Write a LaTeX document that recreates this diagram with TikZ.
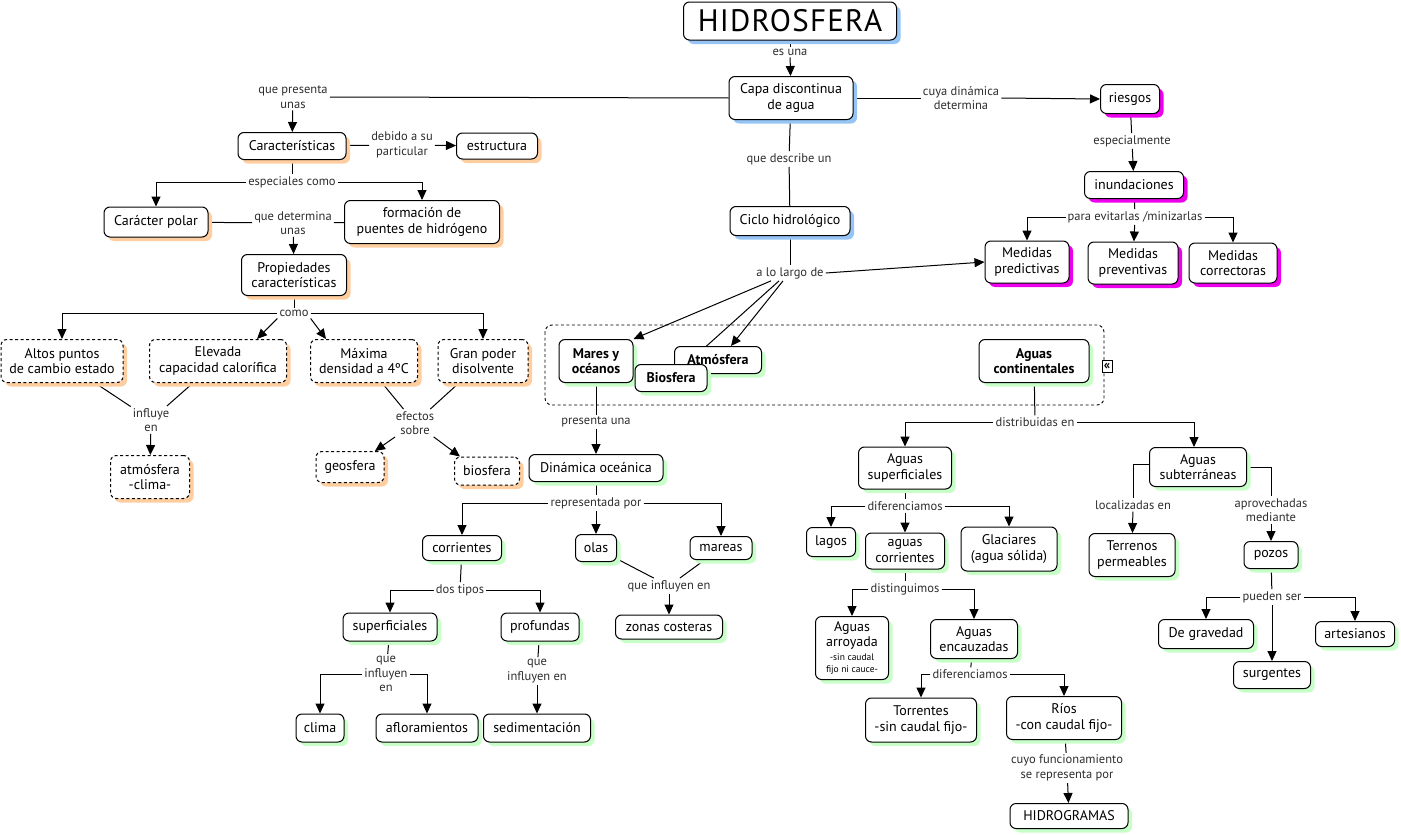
\documentclass[tikz,border=0pt]{standalone}
\usepackage{fontspec}
\setmainfont{PT Sans}
\newfontfamily\hidfont{PT Sans}[LetterSpace=4]
\usetikzlibrary{arrows.meta,shadows,backgrounds}
\definecolor{shblue}{RGB}{150,196,245}
\definecolor{shorange}{RGB}{255,206,160}
\definecolor{shmag}{RGB}{238,0,238}
\definecolor{shgreen}{RGB}{200,255,200}
\definecolor{labc}{RGB}{45,45,45}
\newcommand\nfont{\fontsize{14}{15.5}\selectfont}
\newcommand\lfont{\fontsize{12.5}{14.5}\selectfont}
\newcommand\smfont{\fontsize{9.5}{10}\selectfont}
\tikzset{
  box/.style={draw, rounded corners=6pt, line width=1pt, fill=white, align=center,
    inner sep=1pt, font=\nfont, text=black},
  sz/.style 2 args={minimum width=#1pt, minimum height=#2pt},
  bl/.style={box, drop shadow={shadow xshift=4pt, shadow yshift=-4pt, fill=shblue, opacity=1, draw=none}},
  og/.style={box, drop shadow={shadow xshift=4pt, shadow yshift=-4pt, fill=shorange, opacity=1, draw=none}},
  ogd/.style={og, dash pattern=on 3pt off 2.5pt},
  mg/.style={box, drop shadow={shadow xshift=4pt, shadow yshift=-4pt, fill=shmag, opacity=1, draw=none}},
  gr/.style={box, drop shadow={shadow xshift=4pt, shadow yshift=-4pt, fill=shgreen, opacity=1, draw=none}},
  grb/.style={gr, font=\nfont\bfseries},
  lab/.style={font=\lfont, text=labc, align=center, inner sep=2pt},
  arr/.style={-{Triangle[length=10pt,width=9pt]}},
  edge/.style={line width=1pt, draw=black}
}
\begin{document}
\begin{tikzpicture}[x=1pt,y=-1pt]
\path[use as bounding box] (0,0) rectangle (1401,835);

% group box
\draw[line width=0.9pt, dash pattern=on 3pt off 2.5pt, rounded corners=7pt] (545,325) rectangle (1104,405);
\node[draw, line width=0.8pt, fill=white, inner sep=0pt, minimum width=10pt, minimum height=12pt,
  font=\fontsize{13}{13}\selectfont\bfseries] (icon) at (1107,366) {«};

% blue
\node[bl, sz={213}{38}, font=\hidfont\fontsize{31}{33}\selectfont] (hid) at (790,21) {HIDROSFERA};
\node[bl, sz={124}{43}] (capa) at (791,98) {Capa discontinua\\de agua};
\node[bl, sz={120}{29}] (ciclo) at (790,221) {Ciclo hidrológico};

% orange
\node[og, sz={108}{27}] (carac) at (292,146) {Características};
\node[og, sz={81}{26}] (estr) at (497,146) {estructura};
\node[og, sz={104}{30}] (polar) at (156,222) {Carácter polar};
\node[og, sz={155}{43}] (puentes) at (422,222) {formación de\\puentes de hidrógeno};
\node[og, sz={105}{41}] (prop) at (294,275) {Propiedades\\características};
\node[ogd, sz={122}{43}] (altos) at (62,361) {Altos puntos\\de cambio estado};
\node[ogd, sz={137}{43}] (elev) at (218,361) {Elevada\\capacidad calorífica};
\node[ogd, sz={107}{43}] (maxd) at (364,361) {Máxima\\densidad a 4ºC};
\node[ogd, sz={90}{43}] (gran) at (483,361) {Gran poder\\disolvente};
\node[ogd, sz={79}{43}] (atmc) at (150,477) {atmósfera\\-clima-};
\node[ogd, sz={68}{31}] (geo) at (350,467) {geosfera};
\node[ogd, sz={65}{28}] (bios) at (487,471) {biosfera};

% magenta
\node[mg, sz={59}{29}] (riesgos) at (1130,99) {riesgos};
\node[mg, sz={99}{27}] (inund) at (1134,185) {inundaciones};
\node[mg, sz={84}{42}] (mpred) at (1027,262) {Medidas\\predictivas};
\node[mg, sz={90}{42}] (mprev) at (1133,263) {Medidas\\preventivas};
\node[mg, sz={88}{40}] (mcorr) at (1233,263) {Medidas\\correctoras};

% green
\node[grb, sz={74}{43}] (mares) at (596,361) {Mares y\\océanos};
\node[grb, sz={87}{27}] (atm) at (718,360) {Atmósfera};
\node[grb, sz={72}{27}] (biosf) at (671,378) {Biosfera};
\node[grb, sz={110}{43}] (acont) at (1034,361) {Aguas\\continentales};
\node[gr, sz={134}{27}] (dyn) at (596,468) {Dinámica oceánica};
\node[gr, sz={79}{25}] (corr) at (462,548) {corrientes};
\node[gr, sz={41}{27}] (olas) at (596,548) {olas};
\node[gr, sz={62}{23}] (mareas) at (721,548) {mareas};
\node[gr, sz={107}{24}] (zonas) at (669,627) {zonas costeras};
\node[gr, sz={94}{28}] (superf) at (390,627) {superficiales};
\node[gr, sz={78}{28}] (prof) at (540,627) {profundas};
\node[gr, sz={48}{28}] (clima) at (320,728) {clima};
\node[gr, sz={102}{28}] (aflor) at (427,728) {afloramientos};
\node[gr, sz={107}{28}] (sedim) at (537,728) {sedimentación};
\node[gr, sz={93}{42}] (asup) at (905,468) {Aguas\\superficiales};
\node[gr, sz={97}{39}] (asub) at (1198,467) {Aguas\\subterráneas};
\node[gr, sz={49}{29}] (lagos) at (831,542) {lagos};
\node[gr, sz={79}{36}] (acorr) at (905,551) {aguas\\corrientes};
\node[gr, sz={96}{44}] (glac) at (1009,549) {Glaciares\\(agua sólida)};
\node[gr, sz={86}{43}] (terr) at (1132,555) {Terrenos\\permeables};
\node[gr, sz={54}{27}] (pozos) at (1271,555) {pozos};
\node[gr, sz={95}{29}] (grav) at (1206,634) {De gravedad};
\node[gr, sz={77}{27}] (surg) at (1272,675) {surgentes};
\node[gr, sz={79}{25}] (artes) at (1355,634) {artesianos};
\node[gr, sz={73}{63}] (arroy) at (852,648) {Aguas\\arroyada\\[-2pt]{\smfont -sin caudal}\\[-3pt]{\smfont fijo ni cauce-}};
\node[gr, sz={87}{39}] (encauz) at (974,639) {Aguas\\encauzadas};
\node[gr, sz={111}{44}] (torr) at (921,720) {Torrentes\\-sin caudal fijo-};
\node[gr, sz={115}{43}] (rios) at (1064,718) {Ríos\\-con caudal fijo-};
\node[gr, sz={118}{25}] (hidrog) at (1069,816) {HIDROGRAMAS};

% labels
\node[lab] (l_esuna) at (790,52) {es una};
\node[lab] (l_presenta) at (293,97) {que presenta\\unas};
\node[lab] (l_cuya) at (961,98) {cuya dinámica\\determina};
\node[lab] (l_debido) at (402,145) {debido a su\\particular};
\node[lab] (l_espcomo) at (292,182) {especiales como};
\node[lab] (l_determ) at (293,223) {que determina\\unas};
\node[lab] (l_describe) at (789,159) {que describe un};
\node[lab] (l_especial) at (1132,141) {especialmente};
\node[lab] (l_para) at (1135,217) {para evitarlas /minizarlas};
\node[lab] (l_largo) at (790,273) {a lo largo de};
\node[lab] (l_como) at (294,313) {como};
\node[lab] (l_influye) at (151,420) {influye\\en};
\node[lab] (l_efectos) at (415,423) {efectos\\sobre};
\node[lab] (l_presuna) at (596,422) {presenta una};
\node[lab] (l_distrib) at (1035,422) {distribuidas en};
\node[lab] (l_repr) at (596,503) {representada por};
\node[lab] (l_difer) at (905,506) {diferenciamos};
\node[lab] (l_localiz) at (1133,505) {localizadas en};
\node[lab] (l_aprov) at (1271,510) {aprovechadas\\mediante};
\node[lab] (l_dos) at (460,590) {dos tipos};
\node[lab] (l_qinf1) at (669,586) {que influyen en};
\node[lab] (l_disting) at (905,589) {distinguimos};
\node[lab] (l_pueden) at (1272,597) {pueden ser};
\node[lab] (l_qinf2) at (386,674) {que\\influyen\\en};
\node[lab] (l_qinf3) at (537,671) {que\\influyen en};
\node[lab] (l_difer2) at (970,674) {diferenciamos};
\node[lab] (l_cuyo) at (1067,768) {cuyo funcionamiento\\se representa por};

\begin{scope}[on background layer]
\draw[edge] (hid) -- (l_esuna);
\draw[edge,arr] (l_esuna) -- (capa);
\draw[edge] (capa.west) -- (l_presenta.east);
\draw[edge,arr] (l_presenta) -- (carac);
\draw[edge] (capa.east) -- (l_cuya.west);
\draw[edge,arr] (l_cuya.east) -- (riesgos.west);
\draw[edge] (capa) -- (l_describe);
\draw[edge] (l_describe) -- (ciclo);
\draw[edge] (ciclo) -- (l_largo);
\draw[edge,arr] (l_largo.east) -- (mpred.west);
\draw[edge,arr] ([xshift=-19pt]l_largo.south) -- (mares.north east);
\draw[edge,arr] ([xshift=-11pt]l_largo.south) -- (biosf);
\draw[edge,arr] ([xshift=-7pt]l_largo.south) -- ([xshift=13pt]atm.north);

\draw[edge] (carac) -- (l_debido);
\draw[edge,arr] (l_debido) -- (estr);
\draw[edge] (carac) -- (l_espcomo);
\draw[edge,arr] (l_espcomo.west) -| (polar.north);
\draw[edge,arr] (l_espcomo.east) -| (puentes.north);
\draw[edge] (polar) -- (l_determ);
\draw[edge] (puentes) -- (l_determ);
\draw[edge,arr] (l_determ) -- (prop);
\draw[edge] (prop) -- (l_como);
\draw[edge,arr] (l_como.west) -| (altos.north);
\draw[edge,arr] (l_como.east) -| (gran.north);
\draw[edge,arr] (l_como.south west) -- ([xshift=39pt]elev.north);
\draw[edge,arr] (l_como.south east) -- ([xshift=-38pt]maxd.north);
\draw[edge] (altos) -- (l_influye);
\draw[edge] (elev) -- (l_influye);
\draw[edge,arr] (l_influye) -- (atmc);
\draw[edge] (maxd) -- (l_efectos);
\draw[edge] (gran) -- (l_efectos);
\draw[edge,arr] (l_efectos) -- ([xshift=25pt]geo.north);
\draw[edge,arr] (l_efectos) -- ([xshift=-27pt]bios.north);

\draw[edge] (riesgos) -- (l_especial);
\draw[edge,arr] (l_especial) -- (inund);
\draw[edge] (inund) -- (l_para);
\draw[edge,arr] (l_para.west) -| (mpred.north);
\draw[edge,arr] (l_para) -- (mprev);
\draw[edge,arr] (l_para.east) -| (mcorr.north);

\draw[edge] (mares) -- (l_presuna);
\draw[edge,arr] (l_presuna) -- (dyn);
\draw[edge] (dyn) -- (l_repr);
\draw[edge,arr] (l_repr.west) -| (corr.north);
\draw[edge,arr] (l_repr) -- (olas);
\draw[edge,arr] (l_repr.east) -| (mareas.north);
\draw[edge] (corr) -- (l_dos);
\draw[edge,arr] (l_dos.west) -| (superf.north);
\draw[edge,arr] (l_dos.east) -| (prof.north);
\draw[edge] (olas) -- (l_qinf1);
\draw[edge] (mareas) -- (l_qinf1);
\draw[edge,arr] (l_qinf1) -- (zonas);
\draw[edge] (superf) -- (l_qinf2);
\draw[edge,arr] (l_qinf2.west) -| (clima.north);
\draw[edge,arr] (l_qinf2.east) -| (aflor.north);
\draw[edge] (prof) -- (l_qinf3);
\draw[edge,arr] (l_qinf3) -- (sedim);

\draw[edge] (acont) -- (l_distrib);
\draw[edge,arr] (l_distrib.west) -| (asup.north);
\draw[edge,arr] (l_distrib.east) -| ([xshift=-4pt]asub.north);
\draw[edge] (asup) -- (l_difer);
\draw[edge,arr] (l_difer.west) -| (lagos.north);
\draw[edge,arr] (l_difer) -- (acorr);
\draw[edge,arr] (l_difer.east) -| (glac.north);
\draw[edge] (acorr) -- (l_disting);
\draw[edge,arr] (l_disting.west) -| (arroy.north);
\draw[edge,arr] (l_disting.east) -| (encauz.north);
\draw[edge] (encauz) -- (l_difer2);
\draw[edge,arr] (l_difer2.west) -| (torr.north);
\draw[edge,arr] (l_difer2.east) -| (rios.north);
\draw[edge] (rios) -- (l_cuyo);
\draw[edge,arr] (l_cuyo) -- (hidrog);
\draw[edge] ([yshift=3pt]asub.west) -| (l_localiz.north);
\draw[edge,arr] (l_localiz) -- (terr);
\draw[edge] (asub.east) -| (l_aprov.north);
\draw[edge,arr] (l_aprov) -- (pozos);
\draw[edge] (pozos) -- (l_pueden);
\draw[edge,arr] (l_pueden.west) -| (grav.north);
\draw[edge,arr] (l_pueden) -- (surg);
\draw[edge,arr] (l_pueden.east) -| (artes.north);
\end{scope}
\end{tikzpicture}
\end{document}
